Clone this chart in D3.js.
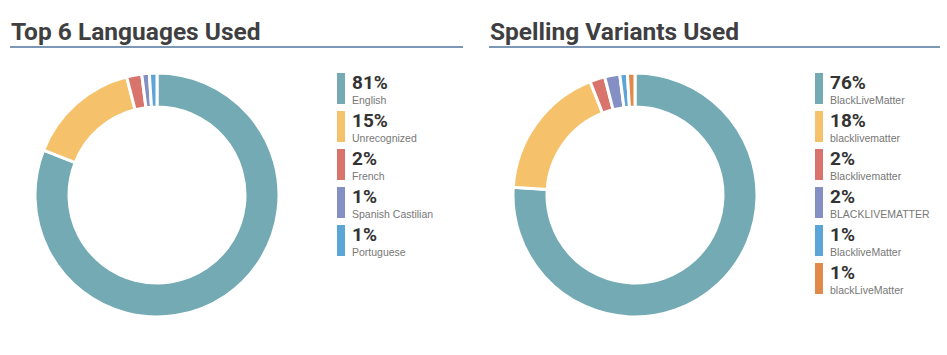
<!DOCTYPE html>
<html lang="en">
  <head>
    <meta charset="UTF-8" />
    <title>Languages and spelling variants</title>
    <script src="https://d3js.org/d3.v7.min.js"></script>
    <style>
      body { margin: 0; background: #fff; }
    </style>
  </head>

  <body>
    <div id="graph"></div>
    <script>
      // data
      const langNames = ['English', 'Unrecognized', 'French', 'Spanish Castilian', 'Portuguese']
      const langValues = [81, 15, 2, 1, 1]
      const spellNames = ['BlackLiveMatter', 'blacklivematter', 'Blacklivematter', 'BLACKLIVEMATTER', 'BlackliveMatter', 'blackLiveMatter']
      const spellValues = [76, 18, 2, 2, 1, 1]
      const colors = ['#73aab3', '#f5c26b', '#d8746c', '#8490c3', '#5ca6d7', '#df8a4b']

      const svg = d3.select('#graph').append('svg').attr('width', 947).attr('height', 355)

      const pie = d3.pie().sort(null).value((d) => d.value)
      const arc = d3.arc().innerRadius(88).outerRadius(122)

      function drawPanel(title, names, values, x0, lineEnd, cx, legendX) {
        const data = names.map((n, i) => ({ name: n, value: values[i] }))
        const color = d3.scaleOrdinal().domain(names).range(colors)

        // 标题
        svg.append('text')
          .attr('x', x0 + 1)
          .attr('y', 40)
          .attr('font-family', 'Roboto')
          .attr('font-weight', 700)
          .attr('font-size', 24.5)
          .attr('fill', '#3f3f42')
          .text(title)
        svg.append('line')
          .attr('x1', x0).attr('x2', lineEnd)
          .attr('y1', 47).attr('y2', 47)
          .attr('stroke', '#7d97b6').attr('stroke-width', 2)

        // 环形图
        const g = svg.append('g').attr('transform', `translate(${cx}, 195)`)
        g.selectAll('path')
          .data(pie(data))
          .join('path')
          .attr('d', arc)
          .attr('fill', (d) => color(d.data.name))
          .attr('stroke', '#fff')
          .attr('stroke-width', 3)

        // 图例
        const leg = svg.append('g').attr('transform', `translate(${legendX}, 73)`)
        const rows = leg.selectAll('g')
          .data(data)
          .join('g')
          .attr('transform', (_, i) => `translate(0, ${i * 38})`)
        rows.append('rect')
          .attr('width', 8).attr('height', 31)
          .attr('fill', (d) => color(d.name))
        rows.append('text')
          .attr('x', 15).attr('y', 16)
          .attr('font-family', 'Roboto')
          .attr('font-weight', 700)
          .attr('font-size', 19)
          .attr('fill', '#333')
          .text((d) => d.value + '%')
        rows.append('text')
          .attr('x', 15).attr('y', 30.5)
          .attr('font-family', 'Liberation Sans, Arial')
          .attr('font-size', 10.5)
          .attr('fill', '#777')
          .text((d) => d.name)
      }

      drawPanel('Top 6 Languages Used', langNames, langValues, 10, 463, 157, 337)
      drawPanel('Spelling Variants Used', spellNames, spellValues, 489, 940, 635, 815)
    </script>
  </body>
</html>
